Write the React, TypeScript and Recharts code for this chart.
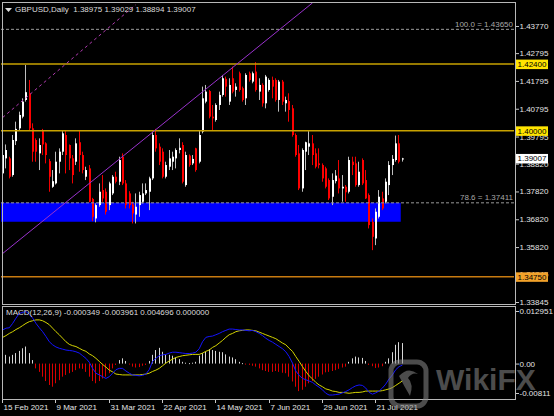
import React from 'react';
import {
  ComposedChart,
  Bar,
  Line,
  XAxis,
  YAxis,
  ReferenceLine,
  ReferenceArea,
  Label,
} from 'recharts';

// GBPUSD daily candles (index 0 = 15 Feb 2021)
const opens = [
  1.3847, 1.3901, 1.3901, 1.3841, 1.3963, 1.4009, 1.4051, 1.4111, 1.4135, 1.4009,
  1.3967, 1.3919, 1.3999, 1.3955, 1.3891, 1.3799, 1.3811, 1.3889, 1.3925, 1.3985,
  1.3949, 1.3901, 1.3889, 1.3959, 1.3913, 1.3835, 1.3865, 1.3755, 1.3685, 1.3733,
  1.3787, 1.3781, 1.3733, 1.3775, 1.3835, 1.3817, 1.3907, 1.3811, 1.3775, 1.3735,
  1.3699, 1.3733, 1.3745, 1.3775, 1.3781, 1.3829, 1.3985, 1.3943, 1.3925, 1.3835,
  1.3871, 1.3889, 1.3901, 1.3931, 1.3949, 1.3805, 1.3911, 1.3883, 1.3937, 1.3889,
  1.3997, 1.4105, 1.4143, 1.4051, 1.4039, 1.4093, 1.4129, 1.4187, 1.4105, 1.4189,
  1.4147, 1.4207, 1.4153, 1.4117, 1.4207, 1.4177, 1.4213, 1.4141, 1.4165, 1.4099,
  1.4147, 1.4183, 1.4183, 1.4111, 1.4177, 1.4099, 1.4107, 1.4081, 1.3985, 1.3919,
  1.3793, 1.3925, 1.3943, 1.3955, 1.3919, 1.3883, 1.3877, 1.3865, 1.3823, 1.3763,
  1.3819, 1.3829, 1.3793, 1.3799, 1.3781, 1.3889, 1.3883, 1.3805, 1.3895, 1.3823,
  1.3769, 1.3673, 1.3613, 1.3691, 1.3757, 1.3745, 1.3805, 1.3877, 1.3895, 1.3955,
  1.38975,
];
const highs = [
  1.3919, 1.3951, 1.3907, 1.3985, 1.4033, 1.4069, 1.4117, 1.4237, 1.4183, 1.4027,
  1.3973, 1.3973, 1.4007, 1.3959, 1.3899, 1.3859, 1.3925, 1.3937, 1.3999, 1.4003,
  1.3951, 1.3913, 1.3973, 1.3999, 1.3925, 1.3871, 1.3877, 1.3759, 1.3739, 1.3811,
  1.3841, 1.3793, 1.3817, 1.3841, 1.3853, 1.3907, 1.3919, 1.3823, 1.3783, 1.3745,
  1.3775, 1.3781, 1.3811, 1.3811, 1.3835, 1.3997, 1.4007, 1.3955, 1.3937, 1.3889,
  1.3931, 1.3925, 1.3937, 1.3973, 1.3959, 1.3925, 1.3915, 1.3913, 1.3939, 1.4003,
  1.4159, 1.4165, 1.4147, 1.4093, 1.4099, 1.4141, 1.4201, 1.4195, 1.4189, 1.4231,
  1.4171, 1.4213, 1.4159, 1.4207, 1.4213, 1.4213, 1.4247, 1.4189, 1.4171, 1.4201,
  1.4189, 1.4195, 1.4189, 1.4183, 1.4183, 1.4123, 1.4135, 1.4093, 1.3991, 1.3949,
  1.3937, 1.3961, 1.3999, 1.3985, 1.3937, 1.3937, 1.3883, 1.3871, 1.3829, 1.3847,
  1.3859, 1.3895, 1.3841, 1.3805, 1.3907, 1.3907, 1.3907, 1.3889, 1.3901, 1.3859,
  1.3775, 1.3685, 1.3721, 1.3787, 1.3781, 1.3829, 1.3891, 1.3913, 1.3983, 1.3985,
  1.39029,
];
const lows = [
  1.3841, 1.3865, 1.3829, 1.3835, 1.3949, 1.4003, 1.4045, 1.4105, 1.4003, 1.3889,
  1.3889, 1.3859, 1.3913, 1.3883, 1.3781, 1.3795, 1.3807, 1.3847, 1.3913, 1.3847,
  1.3859, 1.3811, 1.3877, 1.3853, 1.3847, 1.3823, 1.3743, 1.3675, 1.3671, 1.3727,
  1.3745, 1.3699, 1.3715, 1.3769, 1.3811, 1.3805, 1.3805, 1.3721, 1.3721, 1.3667,
  1.3667, 1.3691, 1.3739, 1.3769, 1.3715, 1.3823, 1.3925, 1.3877, 1.3829, 1.3829,
  1.3859, 1.3859, 1.3865, 1.3919, 1.3811, 1.3799, 1.3871, 1.3877, 1.3853, 1.3883,
  1.3991, 1.4099, 1.4045, 1.4003, 1.4033, 1.4075, 1.4123, 1.4123, 1.4093, 1.4135,
  1.4123, 1.4141, 1.4105, 1.4093, 1.4177, 1.4171, 1.4141, 1.4111, 1.4087, 1.4081,
  1.4141, 1.4117, 1.4105, 1.4069, 1.4093, 1.4069, 1.4033, 1.3979, 1.3907, 1.3787,
  1.3781, 1.3859, 1.3913, 1.3877, 1.3865, 1.3865, 1.3817, 1.3793, 1.3751, 1.3733,
  1.3811, 1.3775, 1.3745, 1.3745, 1.3775, 1.3841, 1.3799, 1.3799, 1.3805, 1.3755,
  1.3649, 1.3571, 1.3589, 1.3685, 1.3715, 1.3739, 1.3769, 1.3841, 1.3889, 1.3883,
  1.38894,
];
const closes = [
  1.3913, 1.3931, 1.3835, 1.3967, 1.4007, 1.4057, 1.4105, 1.4139, 1.4009, 1.3925,
  1.3925, 1.3949, 1.3951, 1.3913, 1.3835, 1.3819, 1.3889, 1.3925, 1.3991, 1.3913,
  1.3901, 1.3841, 1.3955, 1.3913, 1.3859, 1.3859, 1.3745, 1.3691, 1.3733, 1.3781,
  1.3757, 1.3709, 1.3811, 1.3835, 1.3817, 1.3895, 1.3811, 1.3733, 1.3733, 1.3703,
  1.3727, 1.3769, 1.3775, 1.3787, 1.3829, 1.3985, 1.3937, 1.3889, 1.3835, 1.3877,
  1.3901, 1.3907, 1.3931, 1.3939, 1.3817, 1.3913, 1.3877, 1.3899, 1.3859, 1.3985,
  1.4117, 1.4141, 1.4051, 1.4045, 1.4093, 1.4129, 1.4189, 1.4159, 1.4165, 1.4141,
  1.4159, 1.4147, 1.4111, 1.4201, 1.4183, 1.4207, 1.4147, 1.4165, 1.4099, 1.4195,
  1.4183, 1.4159, 1.4111, 1.4177, 1.4105, 1.4111, 1.4075, 1.3985, 1.3913, 1.3793,
  1.3931, 1.3959, 1.3955, 1.3913, 1.3871, 1.3877, 1.3829, 1.3799, 1.3757, 1.3823,
  1.3839, 1.3793, 1.3799, 1.3779, 1.3895, 1.3877, 1.3805, 1.3853, 1.3811, 1.3757,
  1.3661, 1.3619, 1.3709, 1.3763, 1.3721, 1.3817, 1.3877, 1.3899, 1.3955, 1.3889,
  1.39007,
];

// MACD(12,26,9) panel
const macdMain = [
  0.0077, 0.0081, 0.0082, 0.0092, 0.0104, 0.0115, 0.0117, 0.0119, 0.0113, 0.0104,
  0.0092, 0.0082, 0.0073, 0.0062, 0.005, 0.0043, 0.0038, 0.0035, 0.0033, 0.0031,
  0.003, 0.0029, 0.0027, 0.0024, 0.0018, 0.0012, 0.0003, -0.0011, -0.0022, -0.0026,
  -0.003, -0.0034, -0.003, -0.0022, -0.0014, -0.0011, -0.0011, -0.0017, -0.0022, -0.0026,
  -0.0027, -0.0028, -0.0027, -0.0024, -0.0014, 0.0005, 0.0012, 0.0018, 0.002, 0.0021,
  0.0024, 0.0026, 0.0026, 0.0025, 0.0024, 0.0023, 0.0023, 0.0024, 0.0026, 0.0034,
  0.005, 0.006, 0.0062, 0.0063, 0.0066, 0.0069, 0.0073, 0.0076, 0.0079, 0.0079,
  0.0078, 0.0077, 0.0077, 0.0076, 0.0075, 0.0076, 0.0073, 0.0069, 0.0064, 0.0058,
  0.0053, 0.0049, 0.0044, 0.0039, 0.0034, 0.0027, 0.0016, 0.0001, -0.0017, -0.0027,
  -0.0034, -0.0037, -0.004, -0.0043, -0.0049, -0.0054, -0.006, -0.0068, -0.0072, -0.0072,
  -0.0071, -0.007, -0.0067, -0.0064, -0.006, -0.0055, -0.0051, -0.0049, -0.005, -0.0056,
  -0.0066, -0.007, -0.0067, -0.0063, -0.0056, -0.0047, -0.0035, -0.0026, -0.0014, -0.0007,
  -0.000349,
];
const macdSignal = [
  0.006, 0.0064, 0.0069, 0.0073, 0.0078, 0.0082, 0.0087, 0.0092, 0.0096, 0.0098,
  0.01, 0.01, 0.0098, 0.0094, 0.0089, 0.0081, 0.0073, 0.0066, 0.0058, 0.005,
  0.0044, 0.0041, 0.0039, 0.0035, 0.0031, 0.0028, 0.0022, 0.0018, 0.0012, 0.0005,
  -0.0002, -0.0008, -0.0015, -0.0019, -0.0024, -0.0025, -0.0026, -0.0026, -0.0026, -0.0026,
  -0.0026, -0.0026, -0.0025, -0.0024, -0.0022, -0.0018, -0.0015, -0.0011, -0.0005, 0.0001,
  0.0006, 0.001, 0.0014, 0.0016, 0.0018, 0.0019, 0.002, 0.0021, 0.0021, 0.0021,
  0.0024, 0.0028, 0.0031, 0.0037, 0.0041, 0.0047, 0.0053, 0.006, 0.0066, 0.0069,
  0.0073, 0.0075, 0.0076, 0.0077, 0.0077, 0.0076, 0.0075, 0.0072, 0.0069, 0.0066,
  0.0063, 0.006, 0.0057, 0.0052, 0.0047, 0.0043, 0.0035, 0.0028, 0.0016, 0.0005,
  -0.0007, -0.0018, -0.0028, -0.0035, -0.0043, -0.0049, -0.0053, -0.0058, -0.006, -0.0063,
  -0.0064, -0.0066, -0.0066, -0.0067, -0.0068, -0.0067, -0.0066, -0.0066, -0.0065, -0.0063,
  -0.0063, -0.0063, -0.0063, -0.0063, -0.0062, -0.006, -0.0058, -0.0055, -0.005, -0.0045,
  -0.003961,
];
const macdHist = [
  0.0021, 0.002, 0.0016, 0.002, 0.0024, 0.0029, 0.0035, 0.0039, 0.0024, 0.0008,
  -0.0011, -0.0019, -0.003, -0.004, -0.0049, -0.0053, -0.0045, -0.0038, -0.003, -0.0026,
  -0.0022, -0.0019, -0.0015, -0.0011, -0.0012, -0.0019, -0.003, -0.004, -0.0045, -0.004,
  -0.0034, -0.003, -0.0022, -0.0011, -0.0003, 0.0008, 0.0012, 0.0006, -0.0002, -0.0007,
  -0.0009, -0.0008, -0.0005, -0.0003, 0.0006, 0.002, 0.0031, 0.0036, 0.0027, 0.0021,
  0.002, 0.0018, 0.0014, 0.001, 0.0004, 0.0002, 0.0001, 0.0002, 0.0004, 0.0018,
  0.0024, 0.0027, 0.0033, 0.0031, 0.0029, 0.0027, 0.0026, 0.0021, 0.0016, 0.0014,
  0.001, 0.0004, 0.0001, -0.0002, -0.0003, -0.0005, -0.0007, -0.0011, -0.0015, -0.0017,
  -0.0019, -0.0019, -0.0017, -0.0019, -0.0021, -0.0022, -0.003, -0.0041, -0.0053, -0.0063,
  -0.006, -0.0053, -0.0045, -0.004, -0.0035, -0.003, -0.0025, -0.002, -0.0019, -0.0017,
  -0.0015, -0.0012, -0.0009, -0.0007, 0.0004, 0.0012, 0.0016, 0.0014, 0.0013, 0.0006,
  -0.0003, -0.0006, -0.001, -0.0009, -0.0006, 0.0004, 0.0012, 0.0026, 0.0043, 0.0049,
  0.004696,
];

const dateTickIdx = [0, 16, 32, 48, 64, 80, 96, 112];
const dateTickLabels = [
  '15 Feb 2021', '9 Mar 2021', '31 Mar 2021', '22 Apr 2021',
  '14 May 2021', '7 Jun 2021', '29 Jun 2021', '21 Jul 2021',
];
const priceTicks = [
  1.4377, 1.42795, 1.41795, 1.40795, 1.39795, 1.3882, 1.3782, 1.3682, 1.3582, 1.34845, 1.33845,
];
const priceDomain = [1.33845, 1.44597];
const macdTicks = [0.012951, 0, -0.00811];
const macdTickLabels = ['0.012951', '0.00', '-0.00811'];

// drawn objects
const goldLevels = [1.424, 1.4];
const supportLevel = 1.3475;
const fibPrices = [1.4365, 1.37411];
const fibRatios = ['100.0', '78.6'];
const zoneBottom = 1.3673;
const zoneEndIdx = 119;
const channelLine = [{ x: 0, y: 1.3559 }, { x: 93, y: 1.446 }];
const channelUpper = [{ x: 0, y: 1.4048 }, { x: 40, y: 1.4454 }];

const SLOTS = 154;
const FONT = '"Liberation Sans", Arial, sans-serif';
const last = opens.length - 1;

const rows = Array.from({ length: SLOTS }, (_, i) =>
  i < opens.length
    ? { i, o: opens[i], h: highs[i], l: lows[i], c: closes[i], main: macdMain[i], sig: macdSignal[i], hist: macdHist[i] }
    : { i }
);

const candleRange = (d: any) => (d.o == null ? null : [d.l, d.h]);

function Candle(props: any) {
  const { x, y, width, height, payload } = props;
  if (!payload || payload.o == null) return null;
  const { o, h, l, c } = payload;
  const k = h > l ? height / (h - l) : 0;
  const py = (p: number) => y + (h - p) * k;
  const cx = Math.floor(x + width / 2);
  const bull = c >= o;
  const top = py(Math.max(o, c));
  const bodyH = Math.max(1, py(Math.min(o, c)) - top);
  return (
    <g>
      <rect x={cx} y={y} width={1} height={Math.max(1, height)} fill={bull ? '#bdbdbd' : '#f00000'} />
      <rect x={cx} y={top} width={2} height={bodyH} fill={bull ? '#ffffff' : '#ff0000'} />
    </g>
  );
}

function HistBar(props: any) {
  const { x, y, width, height, payload } = props;
  if (!payload || payload.hist == null) return null;
  const top = Math.min(y, y + height);
  const h = Math.max(1, Math.abs(height));
  const cx = Math.floor(x + width / 2);
  return <rect x={cx} y={top} width={1} height={h} fill={payload.hist >= 0 ? '#d6d6d6' : '#d80000'} />;
}

function PriceTick(props: any) {
  const { x, y, payload } = props;
  return (
    <g>
      <line x1={x + 2} x2={x + 5} y1={y + 0.5} y2={y + 0.5} stroke="#c8c8c8" />
      <text x={x + 5.5} y={y + 3} fill="#e4e4e4" fontSize={8} fontFamily={FONT}>
        {payload.value.toFixed(5)}
      </text>
    </g>
  );
}

function MacdTick(props: any) {
  const { x, y, payload } = props;
  const n = macdTicks.indexOf(payload.value);
  const shift = n === 0 ? 4 : n === macdTicks.length - 1 ? -6 : 0;
  const ty = y + shift;
  return (
    <g>
      <line x1={x + 2} x2={x + 5} y1={ty + 0.5} y2={ty + 0.5} stroke="#c8c8c8" />
      <text x={x + 5.5} y={ty + 3} fill="#e4e4e4" fontSize={8} fontFamily={FONT}>
        {macdTickLabels[n]}
      </text>
    </g>
  );
}

function DateTick(props: any) {
  const { x, y, payload } = props;
  const n = dateTickIdx.indexOf(payload.value);
  if (n < 0) return null;
  const tx = Math.floor(x);
  return (
    <g>
      <rect x={tx} y={y + 1} width={1} height={3} fill="#c8c8c8" />
      <text x={tx + 1.5} y={y + 11} fill="#e4e4e4" fontSize={8} fontFamily={FONT}>
        {dateTickLabels[n]}
      </text>
    </g>
  );
}

function LevelTag({ viewBox, text, bg }: any) {
  if (!viewBox) return null;
  const left = viewBox.x + viewBox.width + 2;
  return (
    <g>
      <rect x={left} y={viewBox.y - 4.5} width={32} height={9.5} fill={bg} />
      <text x={left + 16} y={viewBox.y + 3} textAnchor="middle" fill="#000" fontSize={8} fontFamily={FONT}>
        {text}
      </text>
    </g>
  );
}

function FibText({ viewBox, text }: any) {
  if (!viewBox) return null;
  return (
    <text x={viewBox.x + viewBox.width - 1} y={viewBox.y - 2.5} textAnchor="end" fill="#a8a8a8" fontSize={8} fontFamily={FONT}>
      {text}
    </text>
  );
}

const tagLevels = [
  { price: goldLevels[0], bg: '#ffe400' },
  { price: goldLevels[1], bg: '#ffe400' },
  { price: supportLevel, bg: '#f2a22a' },
  { price: closes[last], bg: '#ffffff' },
];

export default function App() {
  const headerText = `GBPUSD,Daily  ${opens[last].toFixed(5)} ${highs[last].toFixed(5)} ${lows[last].toFixed(5)} ${closes[last].toFixed(5)}`;
  const macdText = `MACD(12,26,9) ${macdMain[last].toFixed(6)} ${macdSignal[last].toFixed(6)} ${macdHist[last].toFixed(6)} 0.000000`;
  const textStyle: React.CSSProperties = {
    position: 'absolute',
    fontFamily: FONT,
    fontSize: 8,
    lineHeight: '10px',
    color: '#dcdcdc',
    whiteSpace: 'pre',
  };
  const mainMargin = { top: 3, right: 0, bottom: 6, left: 1 };

  return (
    <div style={{ position: 'absolute', left: 0, top: 0, width: 554, height: 416, background: '#000', overflow: 'hidden' }}>
      <div style={{ position: 'absolute', left: 0, top: 306 }}>
        <ComposedChart width={554} height={110} data={rows} margin={{ top: 1, right: 0, bottom: 0, left: 1 }} barCategoryGap={0} barGap={0}>
          <XAxis
            dataKey="i"
            type="category"
            height={17}
            ticks={dateTickIdx}
            interval={0}
            axisLine={false}
            tickLine={false}
            tickSize={0}
            tickMargin={0}
            tick={(p: any) => <DateTick {...p} />}
          />
          <YAxis
            orientation="right"
            width={40}
            domain={[macdTicks[2], macdTicks[0]]}
            ticks={macdTicks}
            interval={0}
            allowDataOverflow
            axisLine={false}
            tickLine={false}
            tickSize={0}
            tickMargin={0}
            tick={(p: any) => <MacdTick {...p} />}
          />
          <Bar dataKey="hist" shape={(p: any) => <HistBar {...p} />} isAnimationActive={false} />
          <Line dataKey="sig" stroke="#d4d400" dot={false} strokeWidth={1} type="linear" isAnimationActive={false} />
          <Line dataKey="main" stroke="#1414ff" dot={false} strokeWidth={1} type="linear" isAnimationActive={false} />
        </ComposedChart>
      </div>

      <div style={{ position: 'absolute', left: 0, top: 0 }}>
        <ComposedChart width={554} height={308} data={rows} margin={mainMargin} barCategoryGap={0} barGap={0}>
          <XAxis dataKey="i" type="category" hide />
          <YAxis
            orientation="right"
            width={40}
            domain={priceDomain}
            ticks={priceTicks}
            interval={0}
            allowDataOverflow
            axisLine={false}
            tickLine={false}
            tickSize={0}
            tickMargin={0}
            tick={(p: any) => <PriceTick {...p} />}
          />
          <ReferenceArea x1={0} x2={zoneEndIdx} y1={zoneBottom} y2={fibPrices[1]} fill="#0000ff" fillOpacity={1} stroke="none" />
          {fibPrices.map((p, n) => (
            <ReferenceLine key={`fib${n}`} y={p} stroke="#9a9a9a" strokeDasharray="3 2">
              <Label content={(lp: any) => <FibText {...lp} text={`${fibRatios[n]} = ${p.toFixed(5)}`} />} />
            </ReferenceLine>
          ))}
          {goldLevels.map((p) => (
            <ReferenceLine key={`lvl${p}`} y={p} stroke="#c8a200" strokeWidth={1.5} />
          ))}
          <ReferenceLine y={supportLevel} stroke="#c87a10" strokeWidth={1.5} />
          <ReferenceLine segment={channelLine} stroke="#9932cc" ifOverflow="hidden" />
          <ReferenceLine segment={channelUpper} stroke="#b03cb0" strokeDasharray="3 3" ifOverflow="hidden" />
          <Bar dataKey={candleRange} shape={(p: any) => <Candle {...p} />} isAnimationActive={false} />
        </ComposedChart>
      </div>

      {/* price tags on the right scale, drawn above the tick labels */}
      <div style={{ position: 'absolute', left: 0, top: 0 }}>
        <ComposedChart width={554} height={308} data={rows} margin={{ ...mainMargin, right: 40 }}>
          <XAxis dataKey="i" type="category" hide />
          <YAxis hide domain={priceDomain} allowDataOverflow />
          {tagLevels.map((t) => (
            <ReferenceLine key={`tag${t.price}`} y={t.price} stroke="none">
              <Label content={(lp: any) => <LevelTag {...lp} text={t.price.toFixed(5)} bg={t.bg} />} />
            </ReferenceLine>
          ))}
        </ComposedChart>
      </div>

      {/* panel frames */}
      <div style={{ position: 'absolute', left: 2, top: 2, width: 514, height: 303, boxSizing: 'border-box', border: '1px solid #b8b8b8', pointerEvents: 'none' }} />
      <div style={{ position: 'absolute', left: 2, top: 306, width: 514, height: 94, boxSizing: 'border-box', border: '1px solid #b8b8b8', pointerEvents: 'none' }} />

      <svg width={8} height={6} style={{ position: 'absolute', left: 5, top: 8 }}>
        <polygon points="0,0 7,0 3.5,4" fill="#dcdcdc" />
      </svg>
      <div style={{ ...textStyle, left: 15, top: 5 }}>{headerText}</div>
      <div style={{ ...textStyle, left: 6, top: 308 }}>{macdText}</div>

      {/* watermark */}
      <svg width={554} height={416} style={{ position: 'absolute', left: 0, top: 0, pointerEvents: 'none' }}>
        <g opacity={0.55}>
          <rect x={391} y={362} width={35} height={44} rx={9} fill="none" stroke="#8a8a8a" strokeWidth={5} />
          <path d="M399 376 Q408 366 418 374 Q412 372 408 378 Q414 384 410 396 Q404 386 399 376 Z" fill="#8a8a8a" />
          <text x={436} y={390} fontSize={30} fontWeight="bold" fontFamily={FONT} fill="#8a8a8a">
            WikiFX
          </text>
        </g>
      </svg>
    </div>
  );
}
